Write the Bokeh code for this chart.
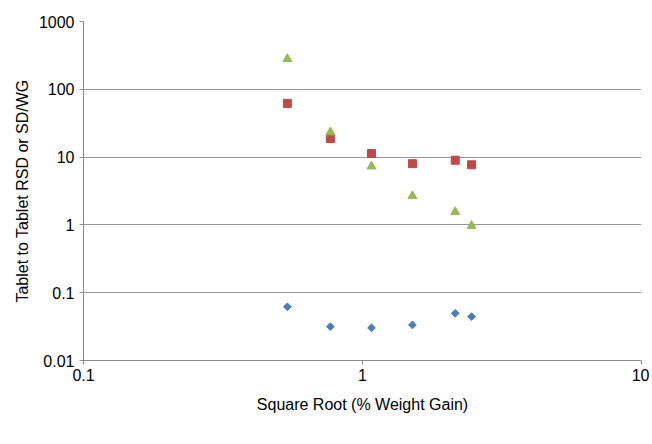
import math
from bokeh.plotting import figure
from bokeh.models import (FixedTicker, CustomJSTickFormatter, Legend, LegendItem,
                          ColumnDataSource, Range1d)
from bokeh.embed import file_html
from bokeh.resources import INLINE

# Data
x_vals = [0.538, 0.767, 1.077, 1.51, 2.15, 2.46]
rsd = [0.062, 0.0316, 0.0303, 0.0335, 0.0497, 0.0444]
orig_sdwg = [62, 18.8, 11.3, 8.0, 9.0, 7.7]
sdwg = [280, 23.3, 7.3, 2.67, 1.55, 0.97]

x_ticks = [0.1, 1, 10]
y_ticks = [0.01, 0.1, 1, 10, 100, 1000]

FONT = "Liberation Sans"

p = figure(width=649, height=444, x_axis_type="log", y_axis_type="log",
           x_range=Range1d(0.1, 10), y_range=Range1d(0.01, 1000),
           output_backend="svg", toolbar_location=None,
           frame_width=558, frame_height=339,
           min_border_left=83, min_border_right=8, min_border_top=21, min_border_bottom=84)
p.outline_line_color = None
p.background_fill_color = "white"

src = ColumnDataSource(dict(x=x_vals, rsd=rsd, orig=orig_sdwg, sdwg=sdwg))
r1 = p.scatter("x", "rsd", source=src, marker="square", size=5.5, angle=math.pi / 4,
               fill_color="#4a7ebb", line_color="#4a7ebb")
r2 = p.scatter("x", "orig", source=src, marker="square", size=8,
               fill_color="#be4b48", line_color="#be4b48")
r3 = p.scatter("x", "sdwg", source=src, marker="triangle", size=9,
               fill_color="#98b954", line_color="#98b954")

fmt = CustomJSTickFormatter(code="return String(Number(tick.toPrecision(6)));")
for ax, ticks in ((p.xaxis[0], x_ticks), (p.yaxis[0], y_ticks)):
    ax.ticker = FixedTicker(ticks=ticks, minor_ticks=[])
    ax.formatter = fmt
    ax.axis_line_color = "#8c8c8c"
    ax.major_tick_line_color = "#8c8c8c"
    ax.major_tick_out = 4
    ax.major_tick_in = 0
    ax.minor_tick_line_color = None
    ax.major_label_text_font = FONT
    ax.major_label_text_font_size = "16px"
    ax.major_label_text_color = "black"
    ax.axis_label_text_font = FONT
    ax.axis_label_text_font_size = "16px"
    ax.axis_label_text_font_style = "normal"
    ax.axis_label_text_color = "black"

p.xaxis.axis_label = "Square Root (% Weight Gain)"
p.yaxis.axis_label = "Tablet to Tablet RSD or SD/WG"
p.xaxis.major_label_standoff = 4
p.yaxis.major_label_standoff = 5
p.xaxis.axis_label_standoff = 12
p.yaxis.axis_label_standoff = 5

p.xgrid.grid_line_color = None
p.ygrid.grid_line_color = "#999999"
p.ygrid.ticker = FixedTicker(ticks=y_ticks)

legend = Legend(items=[LegendItem(label="RSD", renderers=[r1]),
                       LegendItem(label="Original SD/WG", renderers=[r2]),
                       LegendItem(label="SD/WG", renderers=[r3])],
                orientation="horizontal", location=(161, 2),
                label_text_font=FONT, label_text_font_size="13px",
                glyph_width=10, glyph_height=10, label_standoff=4, label_height=14,
                spacing=20, padding=0, margin=0, border_line_color=None,
                background_fill_alpha=0)
p.add_layout(legend, "below")

open("out.html", "w").write(file_html(p, INLINE))
